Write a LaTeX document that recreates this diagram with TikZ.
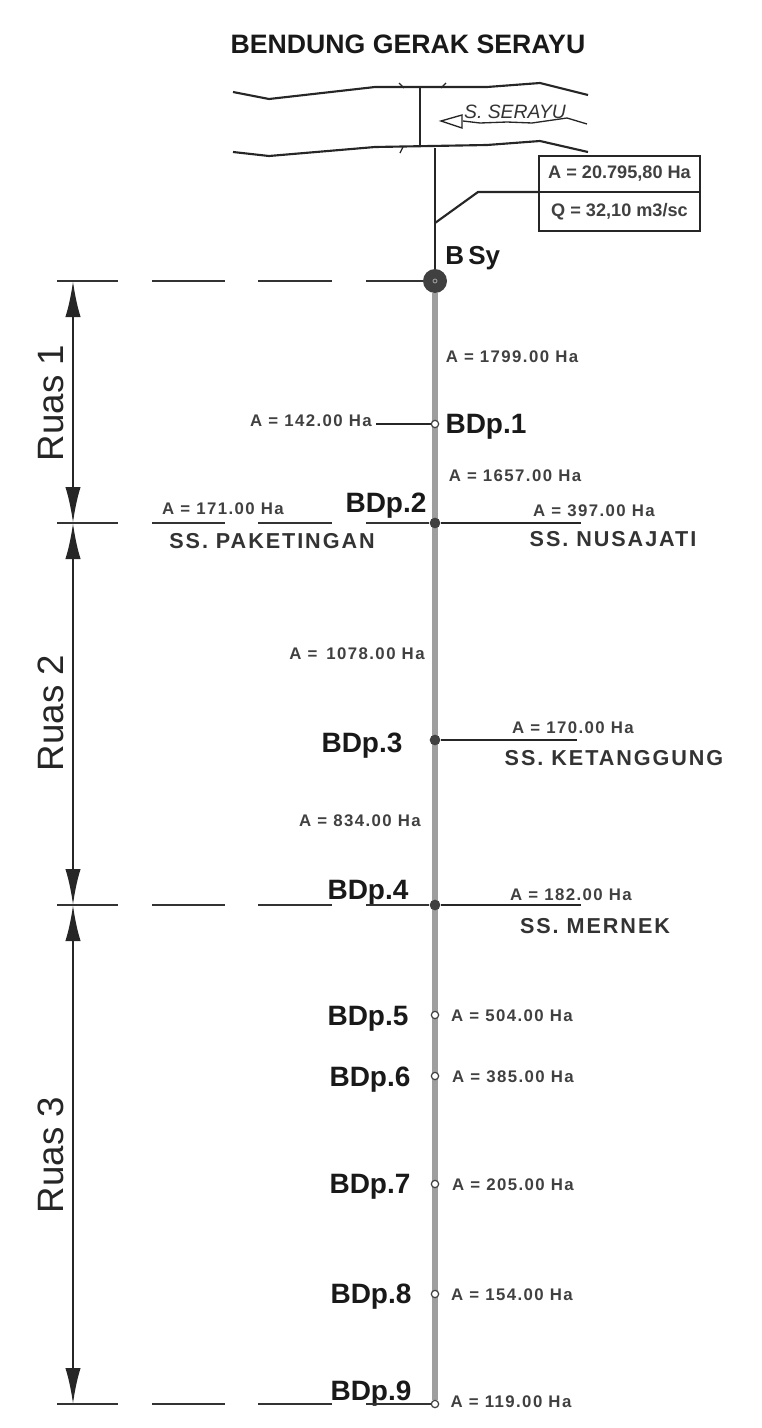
\documentclass[tikz,border=0pt]{standalone}
\usepackage{fontspec}
\setmainfont{Liberation Sans}
\newfontfamily\arealab[LetterSpace=8.5]{Liberation Sans}
\newfontfamily\namelab[LetterSpace=9]{Liberation Sans}
\usetikzlibrary{arrows.meta,backgrounds,positioning}
\tikzset{
  thinline/.style={line width=1.6pt, black!85},
  levelline/.style={line width=1.8pt, black!80, dash pattern=on 45.75pt off 25.5pt on 55pt off 24.5pt on 55.5pt off 25.5pt on 60pt},
  dimarrow/.style={line width=1.9pt, black!85, {Latex[length=27pt,width=11.5pt]}-{Latex[length=27pt,width=11.5pt]}},
  arealabel/.style={inner sep=0pt, font=\arealab\bfseries\fontsize{12.6}{15}\selectfont, text=black!75},
  sslabel/.style={inner sep=0pt, font=\namelab\fontsize{16.2}{19}\selectfont\bfseries, text=black!80},
  bdplabel/.style={inner sep=0pt, font=\bfseries\fontsize{21}{25}\selectfont, text=black!90},
  ruaslabel/.style={inner sep=0pt, rotate=90, font=\fontsize{27.5}{32}\selectfont, text=black!85},
  opendot/.style={circle, draw=black!75, fill=white, line width=.9pt, inner sep=0pt, minimum size=5.5pt},
  fulldot/.style={circle, fill=black!75, inner sep=0pt, minimum size=8pt},
  infocell/.style={draw=black!85, line width=1.6pt, inner sep=0pt, outer sep=0pt, minimum width=120.75pt, font=\bfseries\fontsize{13.6}{16}\selectfont, text=black!75},
}
\begin{document}
\begin{tikzpicture}[x=0.75pt, y=-0.75pt]
    \useasboundingbox (0, 0) rectangle (762, 1428);

    % title and river
    \node[inner sep=0pt, font=\bfseries\fontsize{20}{24}\selectfont, text=black!90] (title) at (408, 44) {BENDUNG GERAK SERAYU};
    \draw[thinline] (233, 92) -- (269, 99) -- (375, 87) -- (487, 87) -- (540, 83) -- (588, 95);
    \draw[thinline] (233, 152) -- (269, 156) -- (375, 147) -- (487, 145) -- (540, 141) -- (588, 152);
    \draw[thinline] (420, 88) -- (420, 147);
    \draw[thinline, line width=.9pt] (399, 83) -- (404, 88);
    \draw[thinline, line width=.9pt] (446, 83) -- (441, 88);
    \draw[thinline, line width=.9pt] (400, 153) -- (403, 147);
    \node[inner sep=0pt, font=\itshape\fontsize{14.5}{17}\selectfont, text=black!80] (river) at (515, 112) {S. SERAYU};
    \draw[thinline, line width=1pt] (463, 121) -- (480, 123) -- (507, 122) -- (532, 123) -- (567, 118) -- (587, 124);
    \draw[thinline, line width=1pt] (441, 121) -- (462, 115) -- (462, 128) -- cycle;

    % info box
    \node[infocell, minimum height=27pt] (infoA) at (619.5, 174) {A = 20.795,80 Ha};
    \node[infocell, minimum height=29pt, below=0pt of infoA] (infoQ) {Q = 32,10 m3/sc};
    \coordinate (weir) at (435, 148);
    \coordinate (leadstart) at (435, 223);
    \coordinate (leadbend) at (478, 192);

    % main line
    \node[circle, fill=black!75, inner sep=0pt, minimum size=18pt] (bsy) at (435, 281) {};
    \node[circle, draw=black!30, inner sep=0pt, minimum size=3pt, line width=.5pt] (bsyin) at (435, 281) {};
    \node[bdplabel, font=\bfseries\fontsize{19.5}{23}\selectfont, anchor=west] (bsylab) at (445, 258) {B\,Sy};
    \node[opendot] (bdp1) at (435, 424) {};
    \node[fulldot] (bdp2) at (435, 523) {};
    \node[fulldot] (bdp3) at (435, 740) {};
    \node[fulldot] (bdp4) at (435, 905) {};
    \node[opendot] (bdp5) at (435, 1015) {};
    \node[opendot] (bdp6) at (435, 1076) {};
    \node[opendot] (bdp7) at (435, 1184) {};
    \node[opendot] (bdp8) at (435, 1294) {};
    \node[opendot] (bdp9) at (435, 1404) {};
    \begin{scope}[on background layer]
      \draw[line width=4.4pt, black!38] (bsy) -- (bdp9);
    \end{scope}
    \draw[thinline, line width=1.9pt] (weir) -- (bsy);
    \draw[thinline] (leadstart) -- (leadbend) -- (infoA.south west);

    % point labels
    \node[bdplabel] (lab1) at (486, 427) {BDp.1};
    \node[bdplabel] (lab2) at (386, 506) {BDp.2};
    \node[bdplabel] (lab3) at (362, 746) {BDp.3};
    \node[bdplabel] (lab4) at (368, 893) {BDp.4};
    \node[bdplabel] (lab5) at (368, 1019) {BDp.5};
    \node[bdplabel] (lab6) at (370, 1080) {BDp.6};
    \node[bdplabel] (lab7) at (370, 1187) {BDp.7};
    \node[bdplabel] (lab8) at (371, 1297) {BDp.8};
    \node[bdplabel] (lab9) at (371, 1394) {BDp.9};

    % areas
    \node[arealabel] (a0) at (512, 357) {A = 1799.00 Ha};
    \node[arealabel] (a1) at (311, 421) {A = 142.00 Ha};
    \node[arealabel] (a2) at (515, 476) {A = 1657.00 Ha};
    \node[arealabel] (a3) at (223, 509) {A = 171.00 Ha};
    \node[arealabel] (a4) at (594, 511) {A = 397.00 Ha};
    \node[arealabel] (a5) at (357, 654) {A =\, 1078.00 Ha};
    \node[arealabel] (a6) at (573, 728) {A = 170.00 Ha};
    \node[arealabel] (a7) at (360, 821) {A = 834.00 Ha};
    \node[arealabel] (a8) at (571, 895) {A = 182.00 Ha};
    \node[arealabel] (a9) at (512, 1016) {A = 504.00 Ha};
    \node[arealabel] (a10) at (513, 1077) {A = 385.00 Ha};
    \node[arealabel] (a11) at (513, 1185) {A = 205.00 Ha};
    \node[arealabel] (a12) at (512, 1295) {A = 154.00 Ha};
    \node[arealabel] (a13) at (511, 1402) {A = 119.00 Ha};

    % canals
    \node[sslabel] (paket) at (272, 541) {SS. PAKETINGAN};
    \node[sslabel] (nusa) at (613, 539) {SS. NUSAJATI};
    \node[sslabel] (ketang) at (614, 758) {SS. KETANGGUNG};
    \node[sslabel] (mernek) at (595, 926) {SS. MERNEK};
    \coordinate (off1) at (376, 424);
    \coordinate (off2) at (581, 523);
    \coordinate (off3) at (577, 740);
    \coordinate (off4) at (581, 905);
    \draw[thinline] (off1) -- (bdp1);
    \draw[thinline] (bdp2) -- (off2);
    \draw[thinline] (bdp3) -- (off3);
    \draw[thinline] (bdp4) -- (off4);

    % reach limits
    \coordinate (lev0) at (57, 281);
    \coordinate (lev1) at (57, 523);
    \coordinate (lev2) at (57, 905);
    \coordinate (lev3) at (57, 1404);
    \draw[levelline] (lev0) -- (bsy);
    \draw[levelline] (lev1) -- (bdp2);
    \draw[levelline] (lev2) -- (bdp4);
    \draw[levelline] (lev3) -- (bdp9);

    \coordinate (dim0) at (73, 281);
    \coordinate (dim1) at (73, 523);
    \coordinate (dim2) at (73, 905);
    \coordinate (dim3) at (73, 1404);
    \draw[dimarrow] (dim0) -- (dim1);
    \draw[dimarrow] (dim1) -- (dim2);
    \draw[dimarrow] (dim2) -- (dim3);
    \node[ruaslabel] (ruas1) at (51, 403) {Ruas 1};
    \node[ruaslabel] (ruas2) at (51, 713) {Ruas 2};
    \node[ruaslabel] (ruas3) at (51, 1155) {Ruas 3};
\end{tikzpicture}
\end{document}
